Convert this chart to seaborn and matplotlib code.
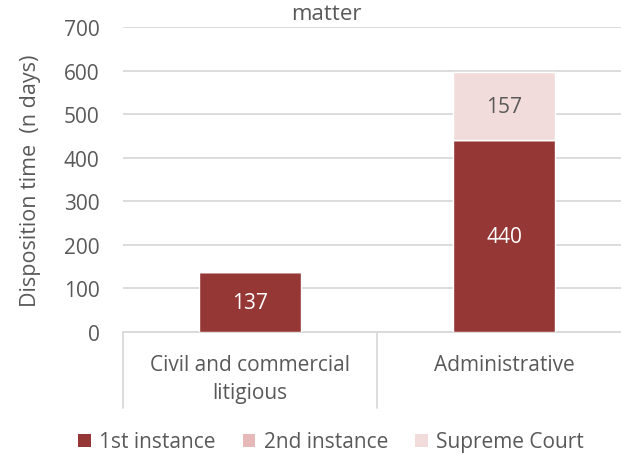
import matplotlib
matplotlib.use('Agg')
import matplotlib.pyplot as plt
import seaborn as sns
import numpy as np
from matplotlib.patches import Patch

# Data
categories = ['Civil and commercial\nlitigious', 'Administrative']
first_instance = [137, 440]
second_instance = [0, 0]
supreme_court = [0, 157]

series_names = ['1st instance', '2nd instance', 'Supreme Court']
colors = ['#953735', '#E6B9B8', '#F2DCDB']
text_grey = '#595959'
grid_grey = '#D9D9D9'

sns.set_theme(style="white")
plt.rcParams['font.family'] = ['Open Sans', 'DejaVu Sans']

fig = plt.figure(figsize=(6.21, 4.56), dpi=100)
ax = fig.add_axes([123 / 621, 123 / 456, 508 / 621, 305 / 456])

bottom2 = np.array(first_instance)
bottom3 = bottom2 + np.array(second_instance)

sns.barplot(x=categories, y=first_instance, color=colors[0], width=0.4,
            saturation=1, ax=ax, zorder=3)
sns.barplot(x=categories, y=second_instance, bottom=bottom2, color=colors[1],
            width=0.4, saturation=1, ax=ax, zorder=3)
sns.barplot(x=categories, y=supreme_court, bottom=bottom3, color=colors[2],
            width=0.4, saturation=1, ax=ax, zorder=3)

# value labels
for i, v in enumerate(first_instance):
    if v:
        ax.text(i, v / 2, str(v), ha='center', va='center', color='white', fontsize=15)
for i, v in enumerate(supreme_court):
    if v:
        ax.text(i, bottom3[i] + v / 2, str(v), ha='center', va='center',
                color=text_grey, fontsize=15)

ax.set_ylim(0, 700)
ax.set_xlim(-0.5, 1.5)
ax.set_yticks(range(0, 701, 100))
ax.yaxis.grid(True, color=grid_grey, linewidth=1.3, zorder=0)
ax.set_axisbelow(True)
for s in ['top', 'right', 'left']:
    ax.spines[s].set_visible(False)
ax.spines['bottom'].set_color(grid_grey)
ax.spines['bottom'].set_linewidth(1.3)

ax.tick_params(axis='y', length=0, pad=17, labelsize=15, labelcolor=text_grey)
ax.tick_params(axis='x', length=0, pad=16, labelsize=15, labelcolor=text_grey)
for lbl in ax.get_xticklabels():
    lbl.set_linespacing(1.45)

# category separators below the axis
for xb in [-0.5, 0.5, 1.5]:
    ax.plot([xb, xb], [0, -0.25], color=grid_grey, linewidth=1.3,
            transform=ax.get_xaxis_transform(), clip_on=False)

ax.set_ylabel('Disposition time  (n days)', fontsize=15.5, color=text_grey, labelpad=16)
fig.text(326 / 621, 1 - 14 / 456, 'matter', ha='center', va='center',
         fontsize=16, color=text_grey)

handles = [Patch(facecolor=c, edgecolor='none') for c in colors]
fig.legend(handles, series_names, loc='center', ncol=3, frameon=False,
           bbox_to_anchor=(331 / 621, 1 - 443 / 456), fontsize=15,
           labelcolor=text_grey, handlelength=0.6, handleheight=0.6,
           handletextpad=0.4, columnspacing=1.3)

fig.savefig('out.png', dpi=100)
